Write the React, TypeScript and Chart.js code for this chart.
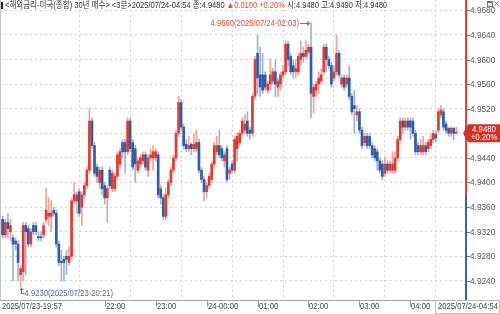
import React, { useEffect, useRef } from 'react';
import { Chart, registerables } from 'chart.js';

Chart.register(...registerables);

// 3-minute bars, 2025/07/23 19:57 -> 2025/07/24 04:54 (180 bars)
const opens = [
  4.9315, 4.934, 4.9315, 4.9335, 4.932, 4.931, 4.9305, 4.93, 4.925, 4.9255,
  4.933, 4.9325, 4.93, 4.933, 4.933, 4.9312, 4.9312, 4.9315, 4.934, 4.9345,
  4.9345, 4.9355, 4.935, 4.93, 4.9272, 4.9275, 4.928, 4.927, 4.928, 4.937,
  4.937, 4.9385, 4.936, 4.938, 4.9395, 4.942, 4.95, 4.946, 4.9425, 4.94,
  4.942, 4.9395, 4.9375, 4.942, 4.939, 4.939, 4.941, 4.943, 4.9465, 4.9465,
  4.945, 4.95, 4.9465, 4.9455, 4.942, 4.943, 4.9435, 4.9445, 4.942, 4.944,
  4.944, 4.944, 4.9445, 4.939, 4.9375, 4.9345, 4.938, 4.94, 4.942, 4.944,
  4.948, 4.953, 4.949, 4.9462, 4.9455, 4.9462, 4.9455, 4.9455, 4.9465, 4.942,
  4.9405, 4.9385, 4.9395, 4.9405, 4.943, 4.945, 4.946, 4.9455, 4.9435, 4.9455,
  4.9415, 4.943, 4.942, 4.9455, 4.9465, 4.948, 4.9485, 4.95, 4.9485, 4.948,
  4.954, 4.961, 4.9575, 4.9575, 4.9575, 4.955, 4.956, 4.9565, 4.958, 4.9555,
  4.956, 4.9575, 4.958, 4.9625, 4.9605, 4.959, 4.958, 4.958, 4.96, 4.961,
  4.9605, 4.9612, 4.962, 4.954, 4.955, 4.956, 4.9565, 4.958, 4.962, 4.96,
  4.959, 4.957, 4.958, 4.961, 4.956, 4.957, 4.956, 4.957, 4.954, 4.9525,
  4.951, 4.9515, 4.9485, 4.9465, 4.9475, 4.9475, 4.946, 4.9455, 4.945, 4.9435,
  4.943, 4.9415, 4.943, 4.942, 4.942, 4.942, 4.944, 4.947, 4.95, 4.949,
  4.95, 4.95, 4.95, 4.948, 4.946, 4.945, 4.945, 4.946, 4.9455, 4.946,
  4.947, 4.9478, 4.9485, 4.951, 4.9515, 4.9495, 4.9488, 4.948, 4.9488, 4.948,
];
const highs = [
  4.9345, 4.9345, 4.934, 4.935, 4.934, 4.9315, 4.931, 4.9305, 4.9265, 4.9335,
  4.9335, 4.933, 4.9325, 4.9335, 4.9335, 4.932, 4.932, 4.9335, 4.939, 4.9375,
  4.937, 4.936, 4.9355, 4.9305, 4.929, 4.928, 4.929, 4.9295, 4.9375, 4.94,
  4.9385, 4.939, 4.9385, 4.94, 4.9425, 4.952, 4.9505, 4.9465, 4.943, 4.9425,
  4.9425, 4.94, 4.9395, 4.9425, 4.942, 4.9415, 4.945, 4.9455, 4.947, 4.947,
  4.9505, 4.9505, 4.947, 4.946, 4.944, 4.9445, 4.945, 4.945, 4.9445, 4.9455,
  4.946, 4.9455, 4.945, 4.9395, 4.938, 4.939, 4.9405, 4.9425, 4.9445, 4.9485,
  4.954, 4.9535, 4.9495, 4.947, 4.9475, 4.9465, 4.948, 4.9485, 4.947, 4.9425,
  4.941, 4.94, 4.9415, 4.9435, 4.9465, 4.9475, 4.9485, 4.946, 4.945, 4.946,
  4.9425, 4.9435, 4.9475, 4.948, 4.9485, 4.9505, 4.951, 4.9515, 4.949, 4.9545,
  4.9605, 4.964, 4.962, 4.961, 4.958, 4.9565, 4.96, 4.9585, 4.96, 4.957,
  4.958, 4.959, 4.963, 4.963, 4.961, 4.96, 4.96, 4.961, 4.963, 4.962,
  4.963, 4.9625, 4.966, 4.956, 4.9565, 4.958, 4.9585, 4.9625, 4.9625, 4.9605,
  4.9595, 4.959, 4.964, 4.9615, 4.9575, 4.9575, 4.9575, 4.959, 4.9545, 4.955,
  4.9525, 4.952, 4.949, 4.948, 4.948, 4.948, 4.9465, 4.946, 4.9455, 4.944,
  4.9435, 4.944, 4.9435, 4.9435, 4.945, 4.945, 4.9475, 4.9505, 4.9505, 4.9505,
  4.9505, 4.9505, 4.9505, 4.9485, 4.9465, 4.947, 4.9475, 4.9465, 4.947, 4.948,
  4.9485, 4.9485, 4.952, 4.9525, 4.952, 4.95, 4.949, 4.949, 4.949, 4.949,
];
const lows = [
  4.931, 4.931, 4.931, 4.931, 4.9305, 4.924, 4.929, 4.924, 4.923, 4.924,
  4.925, 4.9295, 4.9295, 4.9315, 4.9315, 4.9305, 4.9305, 4.931, 4.9335, 4.933,
  4.932, 4.9345, 4.9295, 4.9265, 4.924, 4.924, 4.925, 4.9265, 4.9275, 4.9365,
  4.935, 4.9345, 4.933, 4.9375, 4.939, 4.9415, 4.9455, 4.941, 4.94, 4.939,
  4.938, 4.9365, 4.9335, 4.939, 4.9385, 4.9385, 4.9405, 4.9425, 4.944, 4.9415,
  4.9445, 4.945, 4.942, 4.94, 4.9415, 4.9425, 4.943, 4.942, 4.941, 4.9435,
  4.942, 4.9435, 4.9375, 4.9365, 4.934, 4.934, 4.9375, 4.9395, 4.9415, 4.9435,
  4.9475, 4.9485, 4.9455, 4.945, 4.945, 4.9445, 4.945, 4.945, 4.9415, 4.94,
  4.937, 4.9375, 4.939, 4.94, 4.9425, 4.9445, 4.944, 4.9435, 4.9425, 4.94,
  4.9405, 4.9415, 4.9415, 4.9435, 4.946, 4.9475, 4.948, 4.9475, 4.947, 4.9475,
  4.9535, 4.9545, 4.954, 4.9545, 4.955, 4.9545, 4.955, 4.956, 4.954, 4.954,
  4.955, 4.957, 4.9575, 4.959, 4.9575, 4.957, 4.957, 4.9575, 4.959, 4.9595,
  4.96, 4.961, 4.9505, 4.9513, 4.954, 4.9545, 4.956, 4.9575, 4.958, 4.9585,
  4.9555, 4.9565, 4.9575, 4.957, 4.9555, 4.955, 4.9555, 4.9535, 4.951, 4.948,
  4.95, 4.948, 4.9455, 4.946, 4.9455, 4.9455, 4.944, 4.9435, 4.942, 4.9415,
  4.9405, 4.941, 4.9415, 4.9415, 4.9415, 4.9415, 4.9435, 4.9465, 4.948, 4.9485,
  4.9485, 4.947, 4.9475, 4.9445, 4.9445, 4.9445, 4.9445, 4.9445, 4.945, 4.9455,
  4.9465, 4.9465, 4.948, 4.9505, 4.9485, 4.948, 4.9475, 4.9475, 4.947, 4.948,
];
const closes = [
  4.934, 4.9315, 4.9335, 4.9325, 4.933, 4.93, 4.93, 4.927, 4.926, 4.933,
  4.932, 4.93, 4.932, 4.932, 4.932, 4.931, 4.931, 4.933, 4.9355, 4.935,
  4.935, 4.935, 4.93, 4.927, 4.927, 4.927, 4.9275, 4.928, 4.937, 4.938,
  4.938, 4.935, 4.938, 4.9395, 4.942, 4.95, 4.946, 4.9415, 4.941, 4.942,
  4.939, 4.9375, 4.939, 4.9395, 4.9415, 4.941, 4.9445, 4.945, 4.945, 4.945,
  4.95, 4.9455, 4.9425, 4.943, 4.9435, 4.944, 4.9445, 4.9425, 4.944, 4.9445,
  4.945, 4.945, 4.938, 4.9375, 4.9345, 4.938, 4.94, 4.942, 4.944, 4.948,
  4.953, 4.949, 4.946, 4.9455, 4.946, 4.9455, 4.9462, 4.9465, 4.942, 4.9405,
  4.9385, 4.9395, 4.941, 4.943, 4.946, 4.946, 4.9445, 4.944, 4.9445, 4.9405,
  4.942, 4.942, 4.947, 4.9475, 4.948, 4.95, 4.9495, 4.948, 4.948, 4.954,
  4.96, 4.957, 4.9555, 4.955, 4.9555, 4.956, 4.9575, 4.958, 4.956, 4.9565,
  4.9575, 4.958, 4.9625, 4.96, 4.958, 4.958, 4.9585, 4.9605, 4.961, 4.9605,
  4.9615, 4.962, 4.9545, 4.9555, 4.956, 4.957, 4.9575, 4.962, 4.96, 4.959,
  4.956, 4.958, 4.961, 4.9575, 4.957, 4.9555, 4.957, 4.954, 4.9515, 4.952,
  4.9515, 4.9485, 4.946, 4.9475, 4.946, 4.946, 4.9445, 4.944, 4.9435, 4.942,
  4.941, 4.943, 4.942, 4.943, 4.943, 4.944, 4.947, 4.95, 4.949, 4.95,
  4.949, 4.949, 4.948, 4.945, 4.945, 4.946, 4.946, 4.945, 4.9465, 4.947,
  4.948, 4.9472, 4.9515, 4.9518, 4.949, 4.9485, 4.948, 4.9488, 4.948, 4.948,
];

const yTickValues = [4.924, 4.928, 4.932, 4.936, 4.94, 4.944, 4.948, 4.952, 4.956, 4.96, 4.964, 4.968];
const hourBarIndex = [41, 61, 81, 101, 121, 141, 161];
const hourLabels = ['22:00', '23:00', '24-00:00', '01:00', '02:00', '03:00', '04:00'];
const firstTimeLabel = '2025/07/23-19:57';
const lastTimeLabel = '2025/07/24-04:54';
const prevClose = 4.938;
const lastPrice = 4.948;
const badgeLines = ['4.9480', '+0.20%'];
const highIdx = 122;
const highText = '4.9660(2025/07/24-02:03)';
const lowIdx = 8;
const lowText = '4.9230(2025/07/23-20:21)';
const headerMain = '<해외금리-미국(종합) 30년 매수> <3분>2025/07/24-04:54 종:4.9480 ';
const headerChange = '▲0.0100 +0.20% ';
const headerRest = '시:4.9480 고:4.9490 저:4.9480';

const UP = '#e23a2e';
const DOWN = '#2f5ea8';
const UP_WICK = '#eea29a';
const DOWN_WICK = '#9fb3d3';
const FONT = '"Liberation Sans", "Noto Sans CJK KR", sans-serif';

function drawText(ctx: CanvasRenderingContext2D, s: string, x: number, y: number, size: number, color: string, align: 'left' | 'right' | 'center' = 'left', sx = 0.85) {
  ctx.save();
  ctx.font = `${size}px ${FONT}`;
  ctx.fillStyle = color;
  ctx.textBaseline = 'middle';
  ctx.textAlign = 'left';
  const w = ctx.measureText(s).width * sx;
  const x0 = align === 'left' ? x : align === 'right' ? x - w : x - w / 2;
  ctx.translate(x0, y);
  ctx.scale(sx, 1);
  ctx.fillText(s, 0, 0);
  ctx.restore();
  return w;
}

const overlay = {
  id: 'overlay',
  afterDraw(chart: any) {
    const { ctx, chartArea: ca, scales } = chart;
    const xs = scales.x;
    const ys = scales.y;
    ctx.save();
    // left border
    ctx.fillStyle = '#c8c8c8';
    ctx.fillRect(0, 0, 1, ca.bottom);
    // bottom axis line
    ctx.fillStyle = '#a8a8a8';
    ctx.fillRect(0, ca.bottom, 500, 1);
    // right axis line, red above prev close, blue below
    const yPrev = ys.getPixelForValue(prevClose);
    ctx.fillStyle = '#d8473a';
    ctx.fillRect(ca.right - 1, 0, 2, yPrev);
    ctx.fillStyle = '#3d5f9c';
    ctx.fillRect(ca.right - 1, yPrev, 2, ca.bottom + 1 - yPrev);
    // y labels
    yTickValues.forEach((v) => {
      const py = Math.round(ys.getPixelForValue(v));
      ctx.fillStyle = '#777';
      ctx.fillRect(ca.right + 1, py, 3, 1);
      drawText(ctx, v.toFixed(4), ca.right + 4, py + 0.5, 9, '#555', 'left', 0.92);
    });
    // x labels
    hourBarIndex.forEach((b, i) => {
      const px = Math.round(xs.getPixelForValue(b));
      ctx.fillStyle = '#999';
      ctx.fillRect(px, ca.bottom, 1, 7);
      drawText(ctx, hourLabels[i], px + 1, ca.bottom + 7, 9, '#444', 'left', 0.85);
    });
    drawText(ctx, firstTimeLabel, 2, ca.bottom + 7, 9, '#444', 'left', 0.85);
    const lw = drawText(ctx, lastTimeLabel, 498, ca.bottom + 7, 9, '#444', 'right', 0.85);
    ctx.strokeStyle = '#bdbdbd';
    ctx.lineWidth = 1;
    ctx.strokeRect(Math.round(498 - lw) - 2.5, ca.bottom + 0.5, lw + 4, 13);

    // high annotation
    const hx = xs.getPixelForValue(highIdx);
    const hy = Math.round(ys.getPixelForValue(highs[highIdx])) + 0.5;
    ctx.strokeStyle = '#e04a3c';
    ctx.fillStyle = '#e04a3c';
    ctx.beginPath();
    ctx.moveTo(hx - 11, hy);
    ctx.lineTo(hx - 1, hy);
    ctx.stroke();
    ctx.beginPath();
    ctx.moveTo(hx - 1, hy);
    ctx.lineTo(hx - 4, hy - 2.5);
    ctx.lineTo(hx - 4, hy + 2.5);
    ctx.closePath();
    ctx.fill();
    drawText(ctx, highText, hx - 12, hy, 9, '#e04a3c', 'right', 0.85);

    // low annotation
    const lx = Math.round(xs.getPixelForValue(lowIdx)) + 0.5;
    const ly = ys.getPixelForValue(lows[lowIdx]);
    ctx.strokeStyle = '#4a6aa8';
    ctx.fillStyle = '#4a6aa8';
    ctx.beginPath();
    ctx.moveTo(lx, ly + 1);
    ctx.lineTo(lx, ly + 6.5);
    ctx.lineTo(lx + 3, ly + 6.5);
    ctx.stroke();
    ctx.beginPath();
    ctx.moveTo(lx, ly + 0.5);
    ctx.lineTo(lx - 2, ly + 3);
    ctx.lineTo(lx + 2, ly + 3);
    ctx.closePath();
    ctx.fill();
    drawText(ctx, lowText, lx + 3, ly + 6.5, 9, '#4a6aa8', 'left', 0.85);

    // header
    ctx.fillStyle = '#222';
    ctx.fillRect(1, 2, 2, 7);
    ctx.font = `9px ${FONT}`;
    const W = ctx.measureText(headerMain + headerChange + headerRest).width;
    const sx = Math.min(1, 382 / W);
    let hxp = 5;
    hxp += drawText(ctx, headerMain, hxp, 6, 9, '#333', 'left', sx);
    hxp += drawText(ctx, headerChange, hxp, 6, 9, '#e2463a', 'left', sx);
    drawText(ctx, headerRest, hxp, 6, 9, '#333', 'left', sx);

    // window icons
    ctx.strokeStyle = '#777';
    ctx.strokeRect(487.5, 1.5, 5, 5);
    ctx.fillStyle = '#777';
    ctx.fillRect(487, 1, 6, 2);
    ctx.beginPath();
    ctx.moveTo(494.5, 1.5);
    ctx.lineTo(498.5, 5.5);
    ctx.moveTo(498.5, 1.5);
    ctx.lineTo(494.5, 5.5);
    ctx.stroke();

    // price badge
    const py = ys.getPixelForValue(lastPrice);
    ctx.fillStyle = '#cf3429';
    ctx.beginPath();
    ctx.moveTo(ca.right - 3, py);
    ctx.lineTo(ca.right + 2, py - 9);
    ctx.lineTo(500, py - 9);
    ctx.lineTo(500, py + 9);
    ctx.lineTo(ca.right + 2, py + 9);
    ctx.closePath();
    ctx.fill();
    drawText(ctx, badgeLines[0], 484, py - 4, 8.5, '#fff', 'center', 0.92);
    drawText(ctx, badgeLines[1], 484, py + 4.5, 8.5, '#fff', 'center', 0.92);
    ctx.restore();
  },
};

export default function App() {
  const ref = useRef<HTMLCanvasElement>(null);
  useEffect(() => {
    if (!ref.current) return;
    const up = opens.map((o, i) => closes[i] >= o);
    const chart = new Chart(ref.current, {
      type: 'bar',
      data: {
        datasets: [
          {
            label: 'wick',
            data: opens.map((_, i) => ({ x: i, y: [lows[i], highs[i]] })) as any,
            backgroundColor: up.map((u) => (u ? UP_WICK : DOWN_WICK)),
            barThickness: 1,
            grouped: false,
            order: 2,
          } as any,
          {
            label: 'body',
            data: opens.map((o, i) => ({ x: i, y: [o, closes[i]] })) as any,
            backgroundColor: up.map((u) => (u ? UP : DOWN)),
            barThickness: 2,
            minBarLength: 1,
            grouped: false,
            order: 1,
          } as any,
        ],
      },
      options: {
        animation: false,
        responsive: false,
        devicePixelRatio: 1,
        events: [],
        layout: { padding: { left: 0, right: 34, top: 0, bottom: 14 } },
        plugins: { legend: { display: false }, tooltip: { enabled: false } },
        scales: {
          x: {
            type: 'linear',
            min: -0.1,
            max: 182.83,
            offset: false,
            grid: { color: '#d2d2d2', drawTicks: false },
            border: { display: false, dash: [2, 3] },
            ticks: { display: false },
            afterBuildTicks: (s: any) => {
              s.ticks = hourBarIndex.map((v) => ({ value: v }));
            },
          },
          y: {
            type: 'linear',
            position: 'right',
            min: 4.920894,
            max: 4.969675,
            grid: { color: '#d2d2d2', drawTicks: false },
            border: { display: false, dash: [2, 3] },
            ticks: { display: false },
            afterBuildTicks: (s: any) => {
              s.ticks = yTickValues.map((v) => ({ value: v }));
            },
          },
        },
      } as any,
      plugins: [overlay],
    });
    return () => chart.destroy();
  }, []);
  return (
    <div style={{ position: 'fixed', left: 0, top: 0, width: 500, height: 314, background: '#fff' }}>
      <canvas ref={ref} width={500} height={314} style={{ width: 500, height: 314, display: 'block' }} />
    </div>
  );
}
